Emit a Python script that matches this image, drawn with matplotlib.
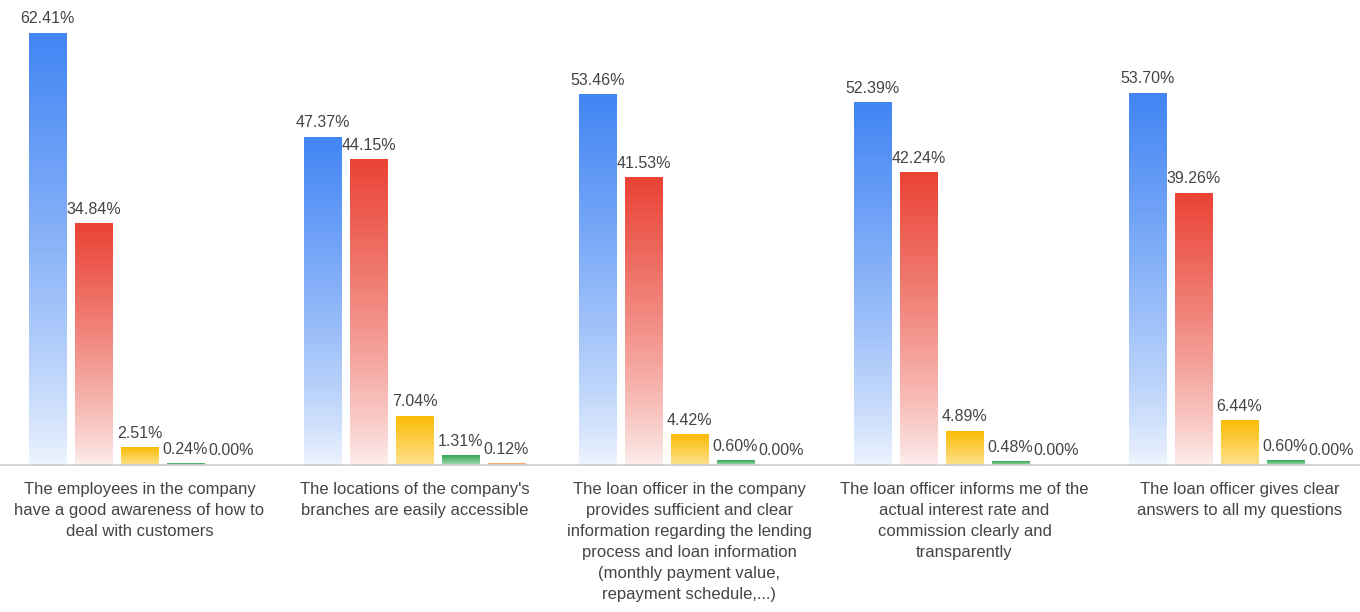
import matplotlib.pyplot as plt
import numpy as np
from matplotlib.colors import to_rgb

plt.rcParams['font.family'] = ['Liberation Sans', 'DejaVu Sans']

# Data
categories = [
    "The employees in the company\nhave a good awareness of how to\ndeal with customers",
    "The locations of the company's\nbranches are easily accessible",
    "The loan officer in the company\nprovides sufficient and clear\ninformation regarding the lending\nprocess and loan information\n(monthly payment value,\nrepayment schedule,...)",
    "The loan officer informs me of the\nactual interest rate and\ncommission clearly and\ntransparently",
    "The loan officer gives clear\nanswers to all my questions",
]
series_1 = [62.41, 47.37, 53.46, 52.39, 53.70]
series_2 = [34.84, 44.15, 41.53, 42.24, 39.26]
series_3 = [2.51, 7.04, 4.42, 4.89, 6.44]
series_4 = [0.24, 1.31, 0.60, 0.48, 0.60]
series_5 = [0.00, 0.12, 0.00, 0.00, 0.00]
series = [series_1, series_2, series_3, series_4, series_5]
colors = ['#4285F4', '#EA4335', '#FBBC04', '#34A853', '#FF9E55']

fig = plt.figure(figsize=(13.6, 6.12), dpi=100)
ax = fig.add_axes([0, 0.24, 1, 0.76])

x = np.arange(len(categories))
step = 46 / 275
width = 37 / 275


def gradient_fill(ax, rect, color):
    """Fill a bar patch with a vertical fade to white"""
    h = rect.get_height()
    if h <= 0:
        return
    t = np.linspace(0, 1, 256)[:, None]
    w = 0.08 + 0.92 * t ** 0.8
    # short bars keep more of their colour at the bottom
    if h < 10:
        w = 0.45 + 0.55 * t
    c = np.array(to_rgb(color))
    img = (1 - w)[..., None] * np.ones(3) + w[..., None] * c
    img = np.repeat(img, 2, axis=1)
    x0 = rect.get_x()
    ax.imshow(img, extent=(x0, x0 + rect.get_width(), 0, max(h, 0.25)), origin='lower',
              aspect='auto', interpolation='bilinear', zorder=2)


for k, (vals, col) in enumerate(zip(series, colors)):
    bars = ax.bar(x + (k - 2) * step, vals, width, color='none', edgecolor='none', zorder=2)
    for rect, v in zip(bars, vals):
        gradient_fill(ax, rect, col)
        ax.annotate(f'{v:.2f}%', (rect.get_x() + rect.get_width() / 2, v),
                    xytext=(0, 5), textcoords='offset points', ha='center', va='bottom',
                    fontsize=11.5, color='#444444')

ax.set_xlim(-0.507, 4.438)
ax.set_ylim(0, 67.2)
ax.set_xticks(x)
ax.set_xticklabels(categories, fontsize=12, color='#444444', linespacing=1.5)
ax.tick_params(axis='x', length=0, pad=12)
ax.set_yticks([])
for s in ['top', 'left', 'right']:
    ax.spines[s].set_visible(False)
ax.spines['bottom'].set_color('#cccccc')
ax.spines['bottom'].set_linewidth(1.2)

fig.savefig('out.png', dpi=100)
